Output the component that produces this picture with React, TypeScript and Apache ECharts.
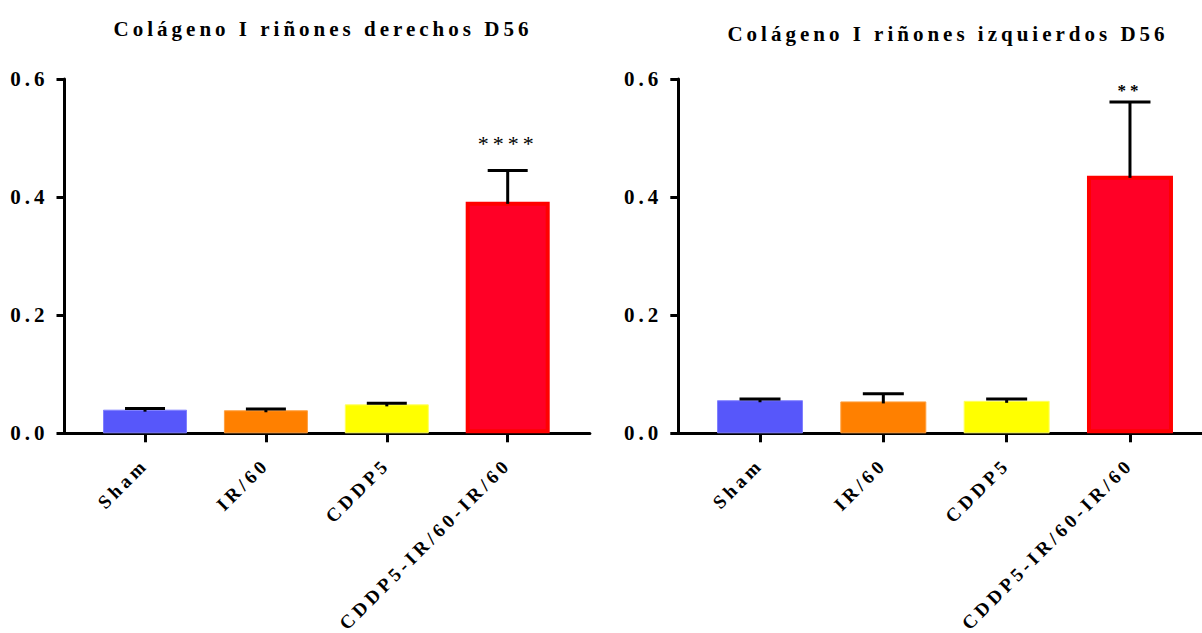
import React, { useEffect, useRef } from 'react';
import * as echarts from 'echarts';

// ---------- data ----------
const categories = ['Sham', 'IR/60', 'CDDP5', 'CDDP5-IR/60-IR/60'];
const derechosMean = [0.040, 0.039, 0.049, 0.392];
const derechosSem = [0.002, 0.002, 0.002, 0.053];
const derechosSig = ['', '', '', '****'];
const izquierdosMean = [0.056, 0.054, 0.055, 0.436];
const izquierdosSem = [0.002, 0.013, 0.003, 0.125];
const izquierdosSig = ['', '', '', '**'];
const titles = ['Colágeno I riñones derechos D56', 'Colágeno I riñones izquierdos D56'];
const yMin = 0;
const yMax = 0.6;
const yStep = 0.2;

// ---------- styles ----------
const FONT = "'Liberation Serif', 'Times New Roman', serif";
const barColors = ['#5757fa', '#ff8000', '#ffff00', '#ff0026'];
const barBorders = ['#8080ff', '#ffa040', '#ffff60', '#ff0000'];
const barBorderW = [1, 1, 1, 4];

const panels = [
  {
    means: derechosMean, sems: derechosSem, sigs: derechosSig, title: titles[0],
    left: 64.5, width: 525.4, xMin: -0.666, xMax: 3.68, barWidth: 84, cap: 20,
    titleX: 318, titleTop: 13, sigSize: 22, sigWeight: 'normal', sigOffset: -27,
  },
  {
    means: izquierdosMean, sems: izquierdosSem, sigs: izquierdosSig, title: titles[1],
    left: 678.3, width: 523.7, xMin: -0.6625, xMax: 3.584, barWidth: 86, cap: 20.5,
    titleX: 943, titleTop: 18, sigSize: 17, sigWeight: 'bold', sigOffset: -12,
  },
];

function buildOption() {
  const grid: any[] = [];
  const xAxis: any[] = [];
  const yAxis: any[] = [];
  const series: any[] = [];
  const title: any[] = [];
  panels.forEach((p, k) => {
    grid.push({ left: p.left, top: 79, width: p.width, height: 354.3, containLabel: false });
    title.push({
      text: p.title,
      left: p.titleX,
      top: p.titleTop,
      textAlign: 'center',
      textStyle: { fontFamily: FONT, fontWeight: 'bold', fontSize: 21, color: '#000' },
    });
    xAxis.push({
      gridIndex: k,
      type: 'value',
      min: p.xMin,
      max: p.xMax,
      splitLine: { show: false },
      axisLine: { show: true, onZero: false, lineStyle: { color: '#000', width: 3 } },
      axisTick: { show: true, customValues: [0, 1, 2, 3], length: 9, lineStyle: { color: '#000', width: 3 } },
      axisLabel: {
        customValues: [0, 1, 2, 3],
        formatter: (v: number) => categories[Math.round(v)],
        rotate: 45,
        margin: 28,
        fontFamily: FONT,
        fontWeight: 'bold',
        fontSize: 19,
        color: '#000',
      },
    });
    yAxis.push({
      gridIndex: k,
      type: 'value',
      min: yMin,
      max: yMax,
      interval: yStep,
      splitLine: { show: false },
      axisLine: { show: true, onZero: false, lineStyle: { color: '#000', width: 3 } },
      axisTick: { show: true, length: 8, lineStyle: { color: '#000', width: 3 } },
      axisLabel: {
        formatter: (v: number) => v.toFixed(1),
        margin: 16,
        fontFamily: FONT,
        fontWeight: 'bold',
        fontSize: 21,
        color: '#000',
      },
    });
    series.push({
      type: 'bar',
      xAxisIndex: k,
      yAxisIndex: k,
      barWidth: p.barWidth,
      data: p.means.map((m, i) => ({
        value: [i, m],
        itemStyle: { color: barColors[i], borderColor: barBorders[i], borderWidth: barBorderW[i] },
      })),
      z: 2,
    });
    series.push({
      type: 'custom',
      xAxisIndex: k,
      yAxisIndex: k,
      coordinateSystem: 'cartesian2d',
      z: 5,
      encode: { x: 0, y: 1 },
      data: p.means.map((m, i) => [i, m, p.sems[i]]),
      renderItem: (params: any, api: any) => {
        const x = api.value(0);
        const m = api.value(1);
        const e = api.value(2);
        const base = api.coord([x, m]);
        const top = api.coord([x, m + e]);
        const children: any[] = [
          { type: 'line', shape: { x1: base[0], y1: base[1] + 2, x2: top[0], y2: top[1] }, style: { stroke: '#000', lineWidth: 3 } },
          { type: 'line', shape: { x1: top[0] - p.cap, y1: top[1], x2: top[0] + p.cap, y2: top[1] }, style: { stroke: '#000', lineWidth: 3 } },
        ];
        const sig = p.sigs[params.dataIndex];
        if (sig) {
          children.push({
            type: 'text',
            x: top[0],
            y: top[1] + p.sigOffset,
            style: {
              text: sig,
              align: 'center',
              verticalAlign: 'middle',
              fontFamily: FONT,
              fontWeight: p.sigWeight,
              fontSize: p.sigSize,
              fill: '#000',
            },
          });
        }
        return { type: 'group', children };
      },
    });
  });
  return { animation: false, backgroundColor: '#fff', title, grid, xAxis, yAxis, series };
}

export default function App() {
  const ref = useRef<HTMLDivElement>(null);
  useEffect(() => {
    const chart = echarts.init(ref.current as HTMLDivElement, null, { renderer: 'svg' });
    chart.setOption(buildOption() as any);
    return () => chart.dispose();
  }, []);
  return (
    <div style={{ position: 'absolute', left: 0, top: 0, width: 1202, height: 633, background: '#fff', overflow: 'hidden' }}>
      <style>{`.chartbox text { letter-spacing: 4px; }`}</style>
      <div ref={ref} className="chartbox" style={{ width: 1202, height: 633 }} />
    </div>
  );
}
